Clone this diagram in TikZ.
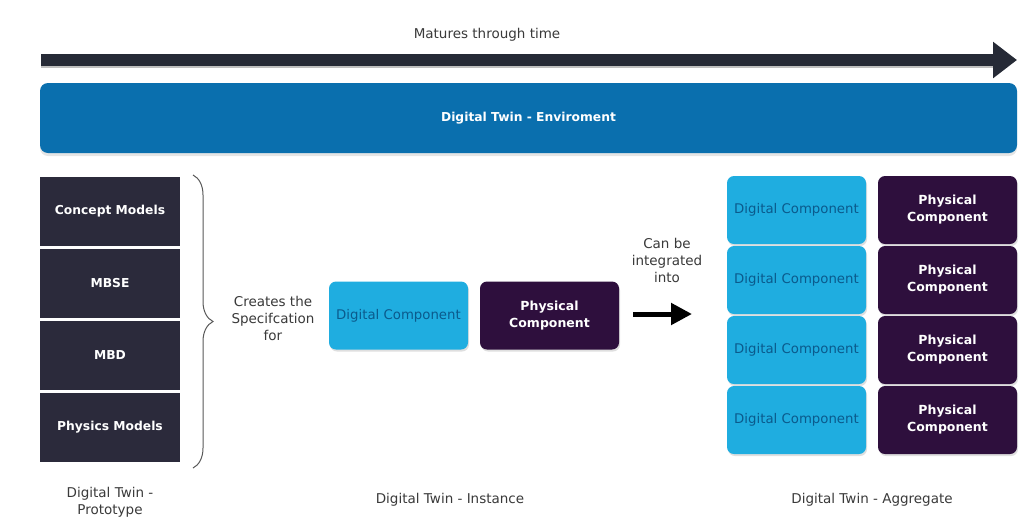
\documentclass[tikz,border=0pt]{standalone}
\usepackage{fontspec}
\setmainfont{DejaVu Sans}
\usetikzlibrary{arrows.meta, positioning, shadows, decorations.pathreplacing}
\definecolor{EnvBlue}{HTML}{0A6FAE}
\definecolor{DigiBlue}{HTML}{1FADE0}
\definecolor{DigiText}{HTML}{0B5A8C}
\definecolor{PhysPurple}{HTML}{2E0F3D}
\definecolor{StackGrey}{HTML}{2B2A3B}
\definecolor{ArrowGrey}{HTML}{262A36}
\definecolor{LabelGrey}{HTML}{3A3A3A}

\begin{document}
\begin{tikzpicture}[x=1pt, y=-1pt, >=Stealth,
  stackbox/.style={fill=StackGrey, minimum width=140pt, minimum height=69pt,
                   text=white, font=\fontsize{12.3}{15}\selectfont\bfseries},
  digibox/.style={fill=DigiBlue, rounded corners=7pt, minimum width=139pt,
                  minimum height=68pt, text=DigiText,
                  font=\fontsize{13.3}{16}\selectfont,
                  drop shadow={shadow xshift=1pt, shadow yshift=-2pt, opacity=0.25}},
  physbox/.style={fill=PhysPurple, rounded corners=7pt, minimum width=139pt,
                  minimum height=68pt, text=white, align=center,
                  font=\fontsize{12.5}{17}\selectfont\bfseries,
                  drop shadow={shadow xshift=1pt, shadow yshift=-2pt, opacity=0.25}},
  caption/.style={text=LabelGrey, align=center, font=\fontsize{13.5}{17}\selectfont}]
  \useasboundingbox[fill=white] (0,0) rectangle (1027,517);

  % Time arrow
  \coordinate (timestart) at (41,60);
  \coordinate (timeend) at (1017,60);
  \draw[black!25, line width=12pt] ([yshift=-2pt]timestart) -- ([yshift=-2pt,xshift=-24pt]timeend);
  \draw[ArrowGrey, line width=12pt, -{Triangle[length=24pt, width=35pt]}] (timestart) -- (timeend);
  \node[caption] (time) at (487,35) {Matures through time};

  % Environment bar
  \node[fill=EnvBlue, rounded corners=8pt, minimum width=977pt, minimum height=70pt,
        text=white, font=\fontsize{12.3}{15}\selectfont\bfseries,
        drop shadow={shadow xshift=0pt, shadow yshift=-3pt, opacity=0.2}]
        (env) at (528.5,118) {Digital Twin - Enviroment};

  % Prototype stack
  \node[stackbox] (concept) at (110,211.5) {Concept Models};
  \node[stackbox] (mbse) at (110,283.5) {MBSE};
  \node[stackbox] (mbd) at (110,355.5) {MBD};
  \node[stackbox] (physics) at (110,427.5) {Physics Models};
  \coordinate (bracetop) at (193,175);
  \coordinate (bracebot) at (193,468);
  \draw[decorate, decoration={brace, amplitude=20pt}, black!65, line width=1pt]
    (bracetop) -- (bracebot);
  \node[caption] (creates) at (273,318) {Creates the\\Specifcation\\for};

  % Instance
  \node[digibox] (instdig) at (398.5,315.5) {Digital Component};
  \node[physbox] (instphys) at (549.5,315.5) {Physical\\Component};
  \coordinate (intstart) at (633,314);
  \coordinate (intend) at (692,314);
  \draw[black, line width=5pt, -{Triangle[length=21pt, width=21pt]}] (intstart) -- (intend);
  \node[caption] (integ) at (667,260) {Can be\\integrated\\into};

  % Aggregate
  \node[digibox] (aggdiga) at (796.5,210) {Digital Component};
  \node[physbox] (aggphysa) at (947.5,210) {Physical\\Component};
  \node[digibox] (aggdigb) at (796.5,280) {Digital Component};
  \node[physbox] (aggphysb) at (947.5,280) {Physical\\Component};
  \node[digibox] (aggdigc) at (796.5,350) {Digital Component};
  \node[physbox] (aggphysc) at (947.5,350) {Physical\\Component};
  \node[digibox] (aggdigd) at (796.5,420) {Digital Component};
  \node[physbox] (aggphysd) at (947.5,420) {Physical\\Component};

  % Stage labels
  \node[caption] (proto) at (110,502) {Digital Twin -\\Prototype};
  \node[caption] (inst) at (450,500) {Digital Twin - Instance};
  \node[caption] (agg) at (872,500) {Digital Twin - Aggregate};
\end{tikzpicture}
\end{document}
